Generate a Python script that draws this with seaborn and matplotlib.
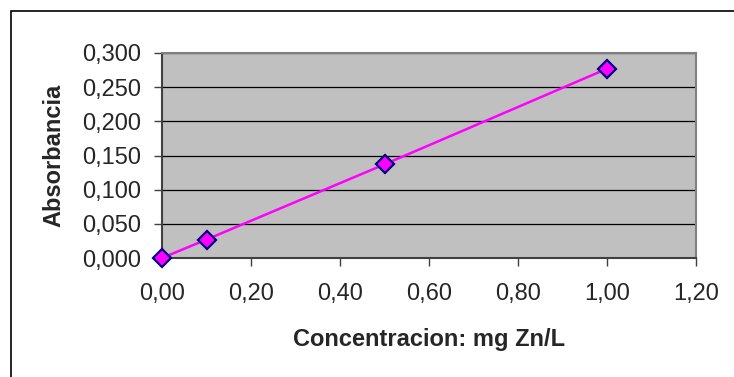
import matplotlib
matplotlib.use("Agg")
import matplotlib.pyplot as plt
import matplotlib.ticker as mticker
from matplotlib.patches import Rectangle
import seaborn as sns
import pandas as pd

# Calibration data
concentracion = [0.0, 0.1, 0.5, 1.0]
absorbancia = [0.000, 0.027, 0.137, 0.277]
x_ticks = [0.0, 0.2, 0.4, 0.6, 0.8, 1.0, 1.2]
y_ticks = [0.000, 0.050, 0.100, 0.150, 0.200, 0.250, 0.300]

df = pd.DataFrame({"conc": concentracion, "abs": absorbancia})

sns.set_style("white")
plt.rcParams['font.family'] = ['Liberation Sans', 'DejaVu Sans']

fig = plt.figure(figsize=(7.34, 3.77), dpi=100)
ax = fig.add_axes([162 / 734, 1 - 258 / 377, (696 - 162) / 734, (258 - 53) / 377])

# outer chart border (runs past right and bottom edge)
fig.patches.append(Rectangle((11 / 734, -0.1), 1.2, 1 - 11 / 377 + 0.1,
                             transform=fig.transFigure, fill=False,
                             edgecolor="black", linewidth=1.2))

ax.set_facecolor("#C0C0C0")
sns.lineplot(data=df, x="conc", y="abs", ax=ax, color="#FF00FF", linewidth=1.8,
             marker="D", markersize=9, markerfacecolor="#FF00FF",
             markeredgecolor="#000080", markeredgewidth=1.6, zorder=5, clip_on=False)

ax.set_xlim(0, 1.2)
ax.set_ylim(0, 0.3)
ax.set_xticks(x_ticks)
ax.set_yticks(y_ticks)
ax.xaxis.set_major_formatter(mticker.FuncFormatter(lambda v, p: f"{v:.2f}".replace(".", ",")))
ax.yaxis.set_major_formatter(mticker.FuncFormatter(lambda v, p: f"{v:.3f}".replace(".", ",")))

ax.yaxis.grid(True, color="black", linewidth=0.9)
ax.set_axisbelow(True)
ax.tick_params(axis="both", direction="out", length=6, width=1, color="#404040",
               labelsize=17, left=True, bottom=True)
ax.tick_params(axis="x", pad=12)
ax.tick_params(axis="y", pad=9)

for s in ["left", "bottom"]:
    ax.spines[s].set_color("#404040")
    ax.spines[s].set_linewidth(1.5)
for s in ["top", "right"]:
    ax.spines[s].set_color("#808080")
    ax.spines[s].set_linewidth(1.5)

ax.set_xlabel("Concentracion: mg Zn/L", fontsize=17, fontweight="bold")
ax.set_ylabel("Absorbancia", fontsize=17, fontweight="bold")
ax.xaxis.set_label_coords(0.5, -0.34)
ax.yaxis.set_label_coords(-0.18, 0.5)

fig.savefig("out.png", dpi=100, facecolor="white")
